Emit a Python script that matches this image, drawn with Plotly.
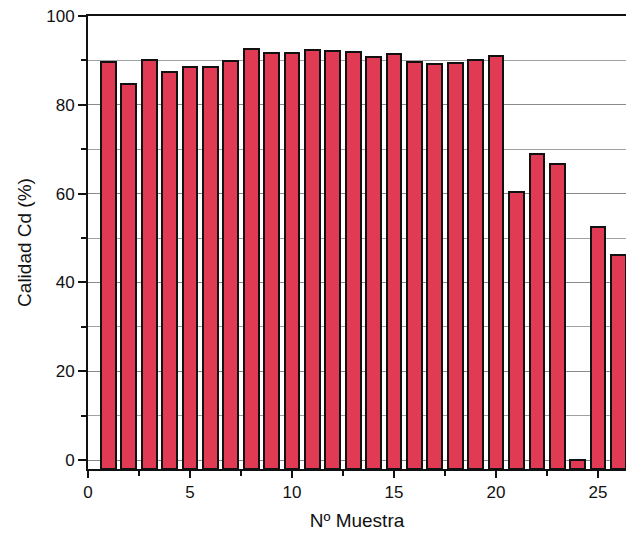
import plotly.graph_objects as go

# Sample numbers and measured Cd quality (%)
samples = list(range(1, 27))
quality = [89.6, 84.8, 90.2, 87.3, 88.6, 88.6, 89.9, 92.6, 91.7, 91.7,
           92.3, 92.1, 91.8, 90.8, 91.4, 89.6, 89.2, 89.4, 90.0, 91.0,
           60.4, 69.0, 66.7, 0.0, 52.6, 46.2]

y_min, y_max = -2, 100
x_min, x_max = 0, 26.37

# bars rise from the bottom of the axis
bar_base = y_min
bar_len = [q - bar_base for q in quality]

fig = go.Figure(go.Bar(
    x=samples,
    y=bar_len,
    base=bar_base,
    width=0.72,
    marker=dict(color="#E03A55", line=dict(color="#111111", width=2)),
    hoverinfo="skip",
))

font_family = "Liberation Sans, Arial, sans-serif"

fig.update_layout(
    width=626, height=537,
    margin=dict(l=88, r=0, t=16, b=68),
    paper_bgcolor="white", plot_bgcolor="white",
    showlegend=False,
    font=dict(family=font_family, size=14, color="#111111"),
    bargap=0,
)

fig.update_xaxes(
    range=[x_min, x_max],
    tickmode="array", tickvals=[0, 5, 10, 15, 20, 25],
    ticks="outside", ticklen=7, tickwidth=1.5, tickcolor="#111111",
    minor=dict(tickvals=[2.5, 7.5, 12.5, 17.5, 22.5], ticks="outside",
               ticklen=5, tickwidth=1.5, tickcolor="#111111"),
    showline=True, linecolor="#111111", linewidth=2, mirror=True,
    showgrid=False, zeroline=False,
    tickfont=dict(size=17),
    title=dict(text="Nº Muestra", font=dict(size=19), standoff=12),
)

fig.update_yaxes(
    range=[y_min, y_max],
    tickmode="array", tickvals=[0, 20, 40, 60, 80, 100],
    ticks="outside", ticklen=8, tickwidth=1.5, tickcolor="#111111",
    minor=dict(tickvals=[10, 30, 50, 70, 90], ticks="outside",
               ticklen=5, tickwidth=1.5, tickcolor="#111111",
               showgrid=True, gridcolor="#a0a0a0", gridwidth=1),
    showgrid=True, gridcolor="#8a8a8a", gridwidth=1,
    showline=True, linecolor="#111111", linewidth=2,
    zeroline=False,
    tickfont=dict(size=17),
    title=dict(text="Calidad Cd (%)", font=dict(size=19), standoff=10),
)

fig.write_html("out.html")
